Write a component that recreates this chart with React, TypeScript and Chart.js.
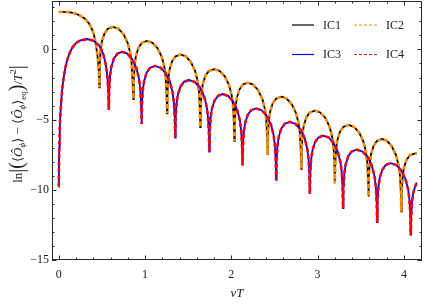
import React, { useEffect, useRef } from 'react';
import { Chart, registerables } from 'chart.js';

Chart.register(...registerables);

// IC1 / IC2 (identical curves)
const ic1T = [
  0, 0.05, 0.10, 0.15, 0.20, 0.25, 0.30, 0.35, 0.39, 0.41, 0.425, 0.44, 0.455, 0.465, 0.47,
  0.475, 0.485, 0.50, 0.53, 0.57, 0.627, 0.69, 0.75, 0.80, 0.83, 0.845, 0.855, 0.865,
  0.87, 0.88, 0.895, 0.925, 0.965, 1.022, 1.085, 1.145, 1.195, 1.225, 1.24, 1.25, 1.255,
  1.26, 1.27, 1.285, 1.315, 1.355, 1.41, 1.472, 1.53, 1.58, 1.61, 1.625, 1.635, 1.64,
  1.645, 1.655, 1.67, 1.70, 1.74, 1.80, 1.863, 1.925, 1.975, 2.005, 2.02, 2.03, 2.035,
  2.04, 2.05, 2.065, 2.095, 2.135, 2.19, 2.252, 2.31, 2.36, 2.39, 2.405, 2.415, 2.42,
  2.425, 2.435, 2.45, 2.48, 2.52, 2.585, 2.64, 2.70, 2.75, 2.78, 2.795, 2.805, 2.81,
  2.815, 2.825, 2.84, 2.87, 2.91, 2.97, 3.03, 3.09, 3.14, 3.17, 3.185, 3.195, 3.20,
  3.205, 3.215, 3.23, 3.26, 3.30, 3.36, 3.42, 3.48, 3.53, 3.56, 3.575, 3.585, 3.59,
  3.595, 3.605, 3.62, 3.65, 3.69, 3.745, 3.805, 3.86, 3.91, 3.94, 3.955, 3.965, 3.97,
  3.975, 3.985, 4.00, 4.03, 4.07, 4.13, 4.15,
];
const ic1V = [
  2.67, 2.67, 2.66, 2.62, 2.54, 2.40, 2.20, 1.86, 1.37, 1.0, 0.55, -0.05, -0.75, -1.6, -2.70,
  -1.16, -0.09, 0.55, 1.14, 1.48, 1.61, 1.48, 1.09, 0.45, -0.29, -1.02, -2.14, -3.53,
  -2.16, -1.09, -0.45, 0.14, 0.48, 0.61, 0.48, 0.09, -0.55, -1.29, -2.02, -3.14, -4.55,
  -3.13, -2.06, -1.42, -0.83, -0.49, -0.36, -0.49, -0.88, -1.52, -2.26, -2.99, -4.11, -5.54,
  -4.17, -3.10, -2.46, -1.87, -1.53, -1.40, -1.53, -1.92, -2.56, -3.30, -4.03, -5.15, -6.52,
  -5.14, -4.07, -3.43, -2.84, -2.50, -2.37, -2.50, -2.89, -3.53, -4.27, -5.00, -6.12, -7.51,
  -6.14, -5.07, -4.43, -3.84, -3.50, -3.37, -3.50, -3.89, -4.53, -5.27, -6.00, -7.12, -8.50,
  -7.13, -6.06, -5.42, -4.83, -4.49, -4.36, -4.49, -4.88, -5.52, -6.26, -6.99, -8.11, -9.53,
  -8.15, -7.08, -6.44, -5.85, -5.51, -5.38, -5.51, -5.90, -6.54, -7.28, -8.01, -9.13, -10.48,
  -9.15, -8.08, -7.44, -6.85, -6.51, -6.38, -6.51, -6.90, -7.54, -8.28, -9.01, -10.13, -11.54,
  -10.2, -9.1, -8.45, -7.87, -7.53, -7.40, -7.42,
];

// IC3 / IC4 (identical curves)
const ic3T = [
  0, 0.003, 0.007, 0.012, 0.02, 0.03, 0.04, 0.055, 0.077, 0.10, 0.13, 0.16, 0.20, 0.25, 0.33, 0.41, 0.47, 0.50, 0.52, 0.54, 0.55, 0.565, 0.575, 0.58,
  0.585, 0.595, 0.61, 0.64, 0.68, 0.735, 0.795, 0.85, 0.90, 0.93, 0.945, 0.955, 0.96,
  0.965, 0.975, 0.99, 1.02, 1.06, 1.117, 1.18, 1.24, 1.29, 1.32, 1.335, 1.345, 1.35,
  1.355, 1.365, 1.38, 1.41, 1.45, 1.51, 1.573, 1.635, 1.685, 1.715, 1.73, 1.74, 1.745,
  1.75, 1.76, 1.775, 1.805, 1.845, 1.90, 1.963, 2.02, 2.07, 2.10, 2.115, 2.125, 2.13,
  2.135, 2.145, 2.16, 2.19, 2.23, 2.287, 2.35, 2.41, 2.46, 2.49, 2.505, 2.515, 2.52,
  2.525, 2.535, 2.55, 2.58, 2.62, 2.677, 2.74, 2.80, 2.85, 2.88, 2.895, 2.905, 2.91,
  2.915, 2.925, 2.94, 2.97, 3.01, 3.065, 3.127, 3.185, 3.235, 3.265, 3.28, 3.29, 3.295,
  3.30, 3.31, 3.325, 3.355, 3.395, 3.455, 3.518, 3.58, 3.63, 3.66, 3.675, 3.685, 3.69,
  3.695, 3.705, 3.72, 3.75, 3.79, 3.847, 3.91, 3.97, 4.02, 4.05, 4.065, 4.075, 4.08,
  4.085, 4.095, 4.11, 4.14, 4.15,
];
const ic3V = [
  -9.77, -8.2, -6.9, -5.6, -4.5, -3.6, -2.85, -2.1, -1.3, -0.7, -0.2, 0.15, 0.45, 0.65, 0.74, 0.60, 0.25, -0.08, -0.42, -0.95, -1.25, -2.0, -3.0, -4.31,
  -2.94, -1.87, -1.23, -0.64, -0.30, -0.17, -0.30, -0.69, -1.33, -2.07, -2.80, -3.92, -5.31,
  -3.94, -2.87, -2.23, -1.64, -1.30, -1.17, -1.30, -1.69, -2.33, -3.07, -3.80, -4.92, -6.28,
  -4.95, -3.88, -3.24, -2.65, -2.31, -2.18, -2.31, -2.70, -3.34, -4.08, -4.81, -5.93, -7.28,
  -5.95, -4.88, -4.24, -3.65, -3.31, -3.18, -3.31, -3.70, -4.34, -5.08, -5.81, -6.93, -8.27,
  -6.97, -5.90, -5.26, -4.67, -4.33, -4.20, -4.33, -4.72, -5.36, -6.10, -6.83, -7.95, -9.29,
  -7.93, -6.86, -6.22, -5.63, -5.29, -5.16, -5.29, -5.68, -6.32, -7.06, -7.79, -8.91, -10.30,
  -8.91, -7.84, -7.20, -6.61, -6.27, -6.14, -6.27, -6.66, -7.30, -8.04, -8.77, -9.89, -11.30,
  -9.91, -8.84, -8.20, -7.61, -7.27, -7.14, -7.27, -7.66, -8.30, -9.04, -9.77, -10.89, -12.30,
  -10.87, -9.80, -9.16, -8.57, -8.23, -8.10, -8.23, -8.62, -9.26, -10.00, -10.73, -11.85, -13.25,
  -11.88, -10.81, -10.17, -9.6, -9.5,
];

const seriesLabels = ['IC1', 'IC2', 'IC3', 'IC4'];
const seriesColors = ['#000000', '#FF8C00', '#0000FF', '#FF0000'];
const xTickValues = [0, 1, 2, 3, 4];
const yTickValues = [-15, -10, -5, 0];

const SERIF = '"Liberation Serif", "DejaVu Serif", serif';

function pts(t: number[], v: number[]) {
  return t.map((x, i) => ({ x, y: v[i] }));
}

function drawYLabel(ctx: CanvasRenderingContext2D, cx: number, cy: number) {
  type Run = { t: string; f: string; dy: number };
  const main = `13px ${SERIF}`;
  const ital = `italic 13px ${SERIF}`;
  const sub = `italic 9px ${SERIF}`;
  const subR = `9px ${SERIF}`;
  const big = `20px ${SERIF}`;
  const runs: Run[] = [
    { t: 'ln', f: main, dy: 0 },
    { t: '|', f: big, dy: 1 },
    { t: '(', f: big, dy: 1 },
    { t: '⟨', f: main, dy: 0 },
    { t: 'Ô', f: ital, dy: 0 },
    { t: 'ϕ', f: sub, dy: 3 },
    { t: '⟩', f: main, dy: 0 },
    { t: ' − ', f: main, dy: 0 },
    { t: '⟨', f: main, dy: 0 },
    { t: 'Ô', f: ital, dy: 0 },
    { t: 'ϕ', f: sub, dy: 3 },
    { t: '⟩', f: main, dy: 0 },
    { t: 'eq', f: subR, dy: 4 },
    { t: ')', f: big, dy: 1 },
    { t: '/', f: main, dy: 0 },
    { t: 'T', f: ital, dy: 0 },
    { t: '2', f: subR, dy: -6 },
    { t: '|', f: big, dy: 1 },
  ];
  ctx.save();
  ctx.translate(cx, cy);
  ctx.rotate(-Math.PI / 2);
  ctx.fillStyle = '#222';
  ctx.textBaseline = 'alphabetic';
  ctx.textAlign = 'left';
  let total = 0;
  const widths = runs.map((r) => {
    ctx.font = r.f;
    const w = ctx.measureText(r.t).width;
    total += w;
    return w;
  });
  let x = -total / 2;
  runs.forEach((r, i) => {
    ctx.font = r.f;
    ctx.fillText(r.t, x, r.dy);
    x += widths[i];
  });
  ctx.restore();
}

const decorPlugin = {
  id: 'decor',
  afterDatasetsDraw(chart: any) {
    const { ctx, chartArea: a, scales } = chart;
    const xs = scales.x;
    const ys = scales.y;
    ctx.save();
    ctx.strokeStyle = '#2a2a2a';
    ctx.lineWidth = 1;
    ctx.strokeRect(a.left + 0.5, a.top + 0.5, a.right - a.left - 1, a.bottom - a.top - 1);
    ctx.beginPath();
    for (let k = 0; k <= 21; k++) {
      const v = k * 0.2;
      if (v > xs.max) break;
      const major = k % 5 === 0;
      const len = major ? 4.5 : 2.5;
      const px = Math.round(xs.getPixelForValue(v)) + 0.5;
      ctx.moveTo(px, a.bottom);
      ctx.lineTo(px, a.bottom - len);
      ctx.moveTo(px, a.top);
      ctx.lineTo(px, a.top + len);
    }
    for (let v = -15; v <= ys.max; v += 1) {
      const major = v % 5 === 0;
      const len = major ? 4.5 : 2.5;
      const py = Math.round(ys.getPixelForValue(v)) + 0.5;
      ctx.moveTo(a.left, py);
      ctx.lineTo(a.left + len, py);
      ctx.moveTo(a.right, py);
      ctx.lineTo(a.right - len, py);
    }
    ctx.stroke();
    ctx.restore();
  },
  afterDraw(chart: any) {
    const { ctx } = chart;
    ctx.save();
    const cols = [
      { x0: 292, x1: 314, tx: 323 },
      { x0: 354, x1: 378, tx: 386 },
    ];
    const rowsY = [25, 54.5];
    const dashes = [[], [3, 2], [], [3, 2]];
    ctx.font = `12px ${SERIF}`;
    ctx.textBaseline = 'middle';
    ctx.textAlign = 'left';
    seriesLabels.forEach((lab, i) => {
      const c = cols[i % 2];
      const y = rowsY[Math.floor(i / 2)];
      ctx.strokeStyle = seriesColors[i];
      ctx.lineWidth = 1.2;
      ctx.setLineDash(dashes[i]);
      ctx.beginPath();
      ctx.moveTo(c.x0, y);
      ctx.lineTo(c.x1, y);
      ctx.stroke();
      ctx.setLineDash([]);
      ctx.fillStyle = '#222';
      ctx.fillText(lab, c.tx, y + 0.5);
    });
    ctx.font = `italic 13px ${SERIF}`;
    ctx.textAlign = 'center';
    ctx.textBaseline = 'middle';
    ctx.fillStyle = '#222';
    ctx.fillText('vT', (chart.chartArea.left + chart.chartArea.right) / 2, 294);
    ctx.restore();
    drawYLabel(ctx, 22, 124);
  },
};

export default function App() {
  const ref = useRef<HTMLCanvasElement | null>(null);
  useEffect(() => {
    if (!ref.current) return;
    const fmt = (v: any) => String(v).replace('-', '−');
    const chart = new Chart(ref.current, {
      type: 'line',
      data: {
        datasets: [
          { label: seriesLabels[0], data: pts(ic1T, ic1V), borderColor: seriesColors[0], borderWidth: 1.8, order: 4 },
          { label: seriesLabels[1], data: pts(ic1T, ic1V), borderColor: seriesColors[1], borderWidth: 2.6, borderDash: [4, 3], order: 3 },
          { label: seriesLabels[2], data: pts(ic3T, ic3V), borderColor: seriesColors[2], borderWidth: 1.8, order: 2 },
          { label: seriesLabels[3], data: pts(ic3T, ic3V), borderColor: seriesColors[3], borderWidth: 2.6, borderDash: [4, 3], order: 1 },
        ] as any,
      },
      options: {
        animation: false,
        responsive: false,
        devicePixelRatio: 1,
        layout: { padding: { top: 1, right: 2, left: 0, bottom: 0 } },
        elements: { point: { radius: 0 }, line: { tension: 0, fill: false } },
        plugins: { legend: { display: false }, tooltip: { enabled: false } },
        scales: {
          x: {
            type: 'linear',
            min: -0.078,
            max: 4.21,
            afterFit: (s: any) => {
              s.height = 46;
              s.paddingLeft = 0;
              s.paddingRight = 0;
            },
            grid: { display: false, drawTicks: false },
            border: { display: false },
            afterBuildTicks: (s: any) => { s.ticks = xTickValues.map((v) => ({ value: v })); },
            ticks: {
              autoSkip: false,
              maxRotation: 0,
              padding: 8,
              color: '#222',
              font: { family: SERIF, size: 12 },
              callback: fmt,
            },
          },
          y: {
            type: 'linear',
            min: -15,
            max: 3.45,
            afterFit: (s: any) => {
              s.width = 52;
              s.paddingTop = 0;
              s.paddingBottom = 0;
            },
            grid: { display: false, drawTicks: false },
            border: { display: false },
            afterBuildTicks: (s: any) => { s.ticks = yTickValues.map((v) => ({ value: v })); },
            ticks: {
              padding: 3,
              color: '#222',
              font: { family: SERIF, size: 12 },
              callback: fmt,
            },
          },
        },
      },
      plugins: [decorPlugin],
    });
    return () => chart.destroy();
  }, []);
  return (
    <div style={{ position: 'absolute', left: 0, top: 0, width: 424, height: 306, background: '#fff' }}>
      <canvas ref={ref} width={424} height={306} />
    </div>
  );
}
